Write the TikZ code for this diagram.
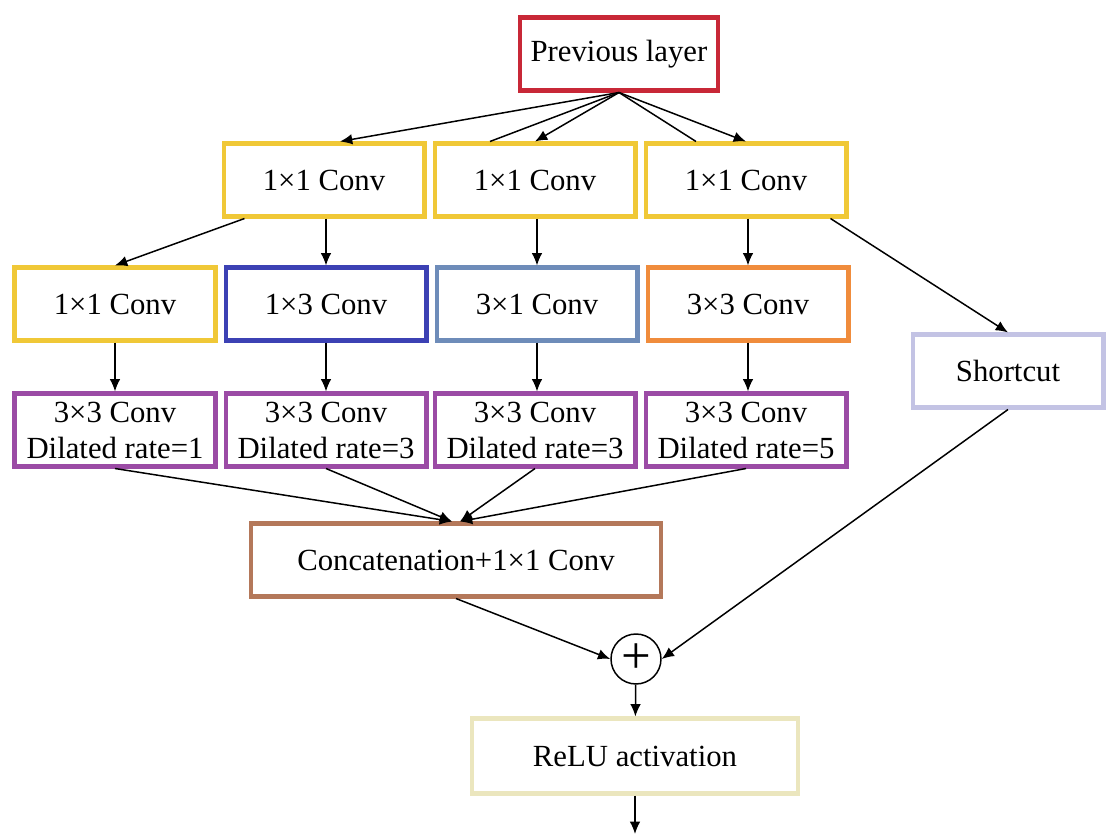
\documentclass[tikz,border=0pt]{standalone}
\usepackage{fontspec}
\setmainfont{Liberation Serif}
\usepackage{tikz}
\usetikzlibrary{shapes,arrows,positioning,calc,arrows.meta}
\definecolor{prevcolor}{RGB}{200,40,55}
\definecolor{onecolor}{RGB}{240,200,55}
\definecolor{rowcolor}{RGB}{60,65,180}
\definecolor{colcolor}{RGB}{110,140,185}
\definecolor{sqcolor}{RGB}{240,140,60}
\definecolor{dilcolor}{RGB}{155,75,165}
\definecolor{shortcolor}{RGB}{195,195,228}
\definecolor{catcolor}{RGB}{180,120,90}
\definecolor{relucolor}{RGB}{235,230,190}

\begin{document}
\begin{tikzpicture}[x=0.02cm, y=-0.02cm,
    box/.style={draw, line width=2.3pt, minimum width=4.02cm, minimum height=1.46cm,
                inner sep=0pt, align=center,
                font=\fontsize{17.5}{20.5}\selectfont},
    link/.style={line width=0.85pt, -{Latex[length=7pt,width=6pt]}},
    plain/.style={line width=0.85pt}]
    \useasboundingbox (0,0) rectangle (1107,835);

    % Input
    \node [box, prevcolor, text=black, minimum width=3.96cm] (prev) at (619,54) {Previous layer};

    % First 1x1 convolutions
    \node [box, onecolor, text=black] (pa) at (324,180) {1×1 Conv};
    \node [box, onecolor, text=black] (pb) at (535,180) {1×1 Conv};
    \node [box, onecolor, text=black] (pc) at (746,180) {1×1 Conv};

    % Second row
    \node [box, onecolor, text=black] (ra) at (115,304) {1×1 Conv};
    \node [box, rowcolor, text=black] (rb) at (326,304) {1×3 Conv};
    \node [box, colcolor, text=black] (rc) at (537,304) {3×1 Conv};
    \node [box, sqcolor, text=black] (rd) at (748,304) {3×3 Conv};

    % Dilated convolutions
    \node [box, dilcolor, text=black] (da) at (115,430) {3×3 Conv\\Dilated rate=1};
    \node [box, dilcolor, text=black] (db) at (326,430) {3×3 Conv\\Dilated rate=3};
    \node [box, dilcolor, text=black] (dc) at (535,430) {3×3 Conv\\Dilated rate=3};
    \node [box, dilcolor, text=black] (dd) at (746,430) {3×3 Conv\\Dilated rate=5};

    % Shortcut, merge and output
    \node [box, shortcolor, text=black, minimum width=3.82cm] (short) at (1008,371) {Shortcut};
    \node [box, catcolor, text=black, minimum width=8.22cm] (concat) at (456,560) {Concatenation+1×1 Conv};
    \node [draw, circle, line width=0.85pt, minimum size=1.0cm, inner sep=0pt,
           font=\fontsize{30}{30}\selectfont] (plus) at (636,659) {+};
    \node [box, relucolor, text=black, minimum width=6.52cm, minimum height=1.5cm] (relu) at (635,756) {ReLU activation};
    \coordinate (out) at (635,834);

    % Arrows from the previous layer
    \draw [link] (prev.south) -- ($(pa.north)+(16,0)$);
    \draw [plain] (prev.south) -- ($(pb.north)+(-45,0)$);
    \draw [link] (prev.south) -- (pb.north);
    \draw [plain] (prev.south) -- ($(pc.north)+(-50,0)$);
    \draw [link] (prev.south) -- (pc.north);

    % First row to second row
    \draw [link] ($(pa.south west)+(23,0)$) -- (ra.north);
    \draw [link] (rb.north |- pa.south) -- (rb.north);
    \draw [link] (rc.north |- pb.south) -- (rc.north);
    \draw [link] (rd.north |- pc.south) -- (rd.north);
    \draw [link] ($(pc.south east)+(-18,0)$) -- (short.north);

    % Second row to dilated row
    \draw [link] (ra) -- (da);
    \draw [link] (rb) -- (db);
    \draw [link] (rc.south) -- (rc.south |- dc.north);
    \draw [link] (rd.south) -- (rd.south |- dd.north);

    % Into the concatenation
    \draw [link] (da.south) -- ($(concat.north)+(-4,0)$);
    \draw [link] (db.south) -- ($(concat.north)+(-4,0)$);
    \draw [link] (dc.south) -- ($(concat.north)+(4,0)$);
    \draw [link] (dd.south) -- ($(concat.north)+(4,0)$);

    % Sum and activation
    \draw [link] (concat.south) -- (plus.west);
    \draw [link] (short.south) -- (plus.east);
    \draw [link] (plus) -- (relu);
    \draw [link] (relu) -- (out);
\end{tikzpicture}
\end{document}
